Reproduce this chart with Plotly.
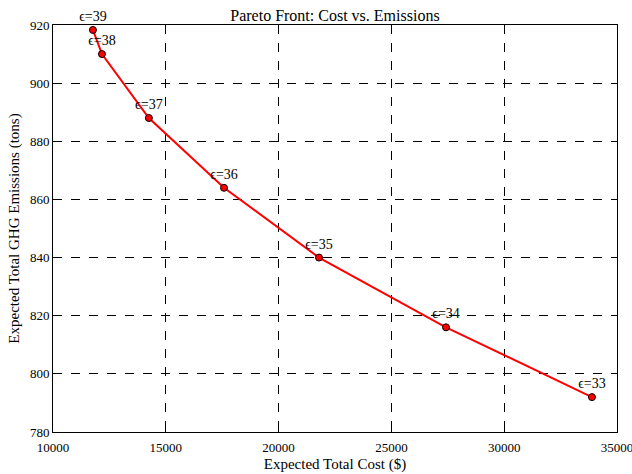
import plotly.graph_objects as go

# Pareto front points (epsilon constraint level, expected cost, expected emissions)
epsilons = [39, 38, 37, 36, 35, 34, 33]
costs = [11770, 12170, 14250, 17580, 21790, 27420, 33890]
emissions = [918.3, 910.0, 888.0, 864.0, 840.0, 816.0, 792.0]
labels = [f"\u03f5={e}" for e in epsilons]

x_ticks = [10000, 15000, 20000, 25000, 30000, 35000]
y_ticks = [780, 800, 820, 840, 860, 880, 900, 920]

font_family = "Liberation Serif, Times New Roman, serif"

fig = go.Figure()
fig.add_trace(go.Scatter(
    x=costs,
    y=emissions,
    mode="lines+markers+text",
    text=labels,
    textposition="top center",
    textfont=dict(family=font_family, size=14, color="black"),
    line=dict(color="red", width=2),
    marker=dict(color="red", size=7, line=dict(color="black", width=1)),
    cliponaxis=False,
    showlegend=False,
))

axis_common = dict(
    showline=True,
    linecolor="black",
    linewidth=1,
    mirror="ticks",
    ticks="inside",
    ticklen=6,
    tickcolor="black",
    showgrid=True,
    gridcolor="black",
    griddash="dash",
    gridwidth=1,
    zeroline=False,
    automargin=False,
    ticklabeloverflow="allow",
    tickfont=dict(family=font_family, size=13, color="black"),
)

fig.update_xaxes(
    range=[10000, 35000],
    tickvals=x_ticks,
    ticktext=[str(v) for v in x_ticks],
    ticklabelstandoff=3,
    title=dict(text="Expected Total Cost ($)", font=dict(family=font_family, size=15, color="black"), standoff=4),
    **axis_common,
)
fig.update_yaxes(
    range=[780, 920],
    tickvals=y_ticks,
    ticktext=[str(v) for v in y_ticks],
    title=dict(text="Expected Total GHG Emissions (tons)", font=dict(family=font_family, size=15, color="black"), standoff=6),
    **axis_common,
)

fig.update_layout(
    width=632,
    height=474,
    margin=dict(l=53, r=15, t=25, b=42),
    paper_bgcolor="white",
    plot_bgcolor="white",
    title=dict(
        text="Pareto Front: Cost vs. Emissions",
        font=dict(family=font_family, size=16, color="black"),
        x=0.53,
        xanchor="center",
        y=0.968,
        yanchor="middle",
    ),
)

fig.write_html("out.html")
